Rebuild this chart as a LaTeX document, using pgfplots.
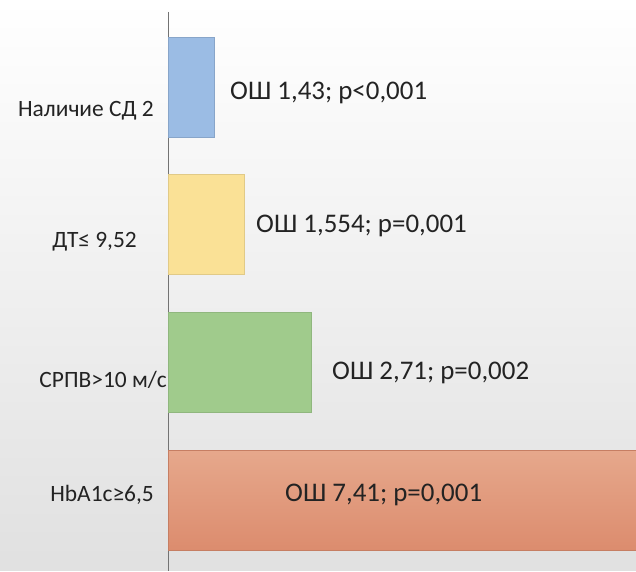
\documentclass[border=0pt]{standalone}
\usepackage{pgfplots}
\pgfplotsset{compat=1.18}
\usepackage{fontspec}
\setmainfont{Carlito}
\definecolor{cblue}{RGB}{155,188,228}
\definecolor{cyellow}{RGB}{250,225,150}
\definecolor{cgreen}{RGB}{160,203,140}
\definecolor{credt}{RGB}{230,168,140}
\definecolor{credb}{RGB}{220,140,110}
\definecolor{ctext}{RGB}{35,35,35}
\begin{document}
\begin{tikzpicture}[x=1bp,y=1bp]
\shade[top color=white, middle color=black!3, bottom color=black!12] (0,0) rectangle (636,571);
\begin{axis}[at={(168bp,0bp)}, anchor=south west, scale only axis,
  width=468bp, height=559bp,
  xmin=0, xmax=468, ymin=-0.545, ymax=3.516, y dir=reverse,
  axis x line=none, axis y line*=left, ytick=\empty, xtick=\empty,
  axis line style={draw=black!55, line width=0.8pt},
  bar width=0.726]
\addplot[xbar, bar shift=0pt, fill=cblue, draw=cblue!88!black] coordinates {(46,0)};
\addplot[xbar, bar shift=0pt, fill=cyellow, draw=cyellow!90!black] coordinates {(76,1)};
\addplot[xbar, bar shift=0pt, fill=cgreen, draw=cgreen!90!black] coordinates {(143,2)};
\addplot[xbar, bar shift=0pt, top color=credt, bottom color=credb, draw=credb!90!black] coordinates {(480,3)};
\end{axis}
\begin{scope}[every node/.style={text=ctext, inner sep=0pt}]
\node[anchor=base west, font=\fontsize{27}{30}\selectfont] at (230,471) {ОШ 1,43; p<0,001};
\node[anchor=base west, font=\fontsize{27}{30}\selectfont] at (256,338) {ОШ 1,554; p=0,001};
\node[anchor=base west, font=\fontsize{27}{30}\selectfont] at (332,191) {ОШ 2,71; p=0,002};
\node[anchor=base west, font=\fontsize{27}{30}\selectfont] at (285,69) {ОШ 7,41; p=0,001};
\node[anchor=base east, font=\fontsize{23.5}{27}\selectfont] at (154,454) {Наличие СД 2};
\node[anchor=base east, font=\fontsize{23.5}{27}\selectfont] at (137,323) {ДТ≤ 9,52};
\node[anchor=base east, font=\fontsize{23.5}{27}\selectfont] at (167,183) {СРПВ>10 м/с};
\node[anchor=base east, font=\fontsize{23.5}{27}\selectfont] at (154,69) {HbA1c≥6,5};
\end{scope}
\end{tikzpicture}
\end{document}
